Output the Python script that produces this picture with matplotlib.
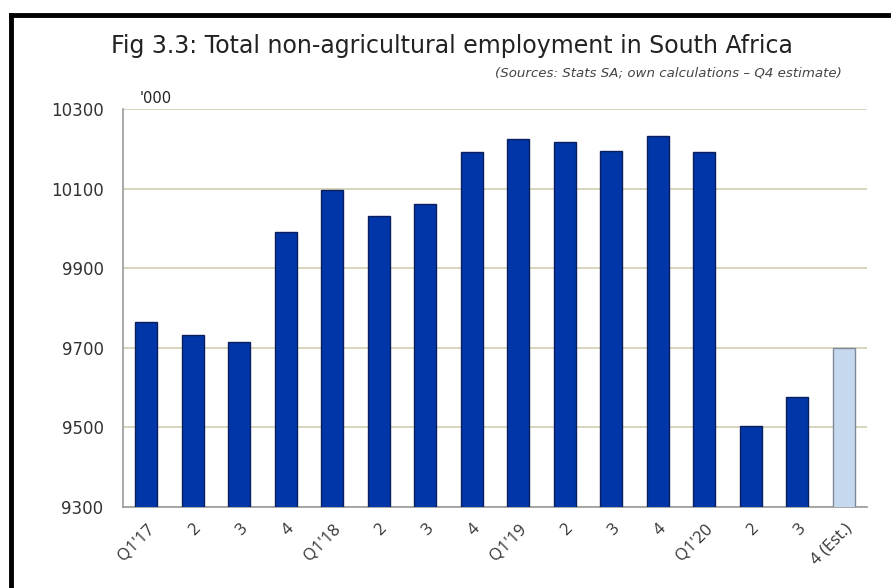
import matplotlib.pyplot as plt
from matplotlib.lines import Line2D

# Quarterly non-agricultural employment ('000), last value is Q4 estimate
quarters = ["Q1'17", "2", "3", "4", "Q1'18", "2", "3", "4",
            "Q1'19", "2", "3", "4", "Q1'20", "2", "3", "4 (Est.)"]
employment = [9765, 9732, 9715, 9991, 10096, 10031, 10061, 10192,
              10225, 10217, 10194, 10232, 10192, 9503, 9576, 9700]
is_estimate = [False] * 15 + [True]

yticks = [9300, 9500, 9700, 9900, 10100, 10300]

fig = plt.figure(figsize=(8.91, 5.88), dpi=100)
ax = fig.add_axes([0.138, 0.1378, 0.835, 0.6768])

colors = ['#c6d8ee' if e else '#0036a8' for e in is_estimate]
edges = ['#7f8a99' if e else '#0a1f5c' for e in is_estimate]
x = list(range(len(quarters)))
ax.bar(x, employment, width=0.48, color=colors, edgecolor=edges,
       linewidth=1.0, zorder=3)

ax.set_xlim(-0.5, len(quarters) - 0.5)
ax.set_ylim(9300, 10300)
ax.set_yticks(yticks)
ax.set_yticklabels([str(v) for v in yticks], fontsize=12,
                   color='#333333', family='DejaVu Sans')
ax.yaxis.grid(True, color='#d6d2b8', linewidth=1.3, zorder=0)
ax.set_axisbelow(True)
ax.tick_params(axis='y', length=0, pad=14)

ax.set_xticks(x)
ax.set_xticklabels(quarters, rotation=45, ha='right', rotation_mode='anchor',
                   fontsize=12, color='#333333', family='Open Sans')
ax.tick_params(axis='x', length=0, pad=10)

for side in ['top', 'right']:
    ax.spines[side].set_visible(False)
ax.spines['left'].set_color('#999999')
ax.spines['bottom'].set_color('#999999')
ax.spines['left'].set_linewidth(1.2)
ax.spines['bottom'].set_linewidth(1.2)

fig.text(0.507, 0.922, "Fig 3.3: Total non-agricultural employment in South Africa",
         ha='center', va='center', fontsize=17, family='DejaVu Sans',
         color='#222222')
fig.text(0.945, 0.876, "(Sources: Stats SA; own calculations \u2013 Q4 estimate)",
         ha='right', va='center', fontsize=9.6, style='italic',
         family='DejaVu Sans', color='#444444')
fig.text(0.157, 0.833, "'000", ha='left', va='center', fontsize=10.5,
         family='DejaVu Sans', color='#222222')

# black frame lines on top and left
fig.add_artist(Line2D([0.0125, 1.0], [0.9745, 0.9745], transform=fig.transFigure,
                      color='black', linewidth=3.5))
fig.add_artist(Line2D([0.0125, 0.0125], [0.0, 0.9745], transform=fig.transFigure,
                      color='black', linewidth=3.5))

fig.savefig('out.png', dpi=100)
